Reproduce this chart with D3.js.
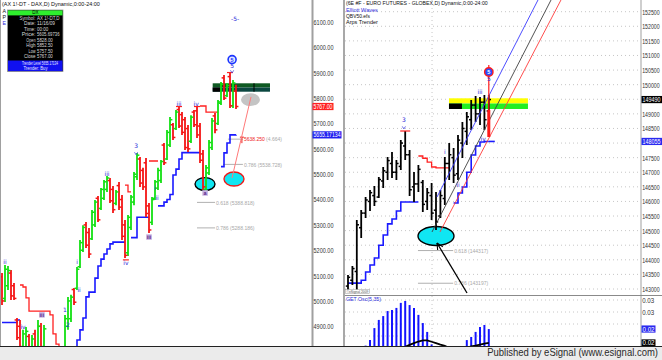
<!DOCTYPE html>
<html><head><meta charset="utf-8">
<script src="https://cdn.jsdelivr.net/npm/d3@7/dist/d3.min.js"></script>
<style>
html,body{margin:0;padding:0;background:#fff;overflow:hidden}
svg{display:block}
</style></head><body>
<svg id="chart" width="662" height="360" font-family="Liberation Sans, Arial, sans-serif"></svg>
<script>
// ================= DATA =================
// Left panel: DAX daily OHLC (79 bars)
const daxOpen = [5095,5010,5060,5110,5060,4925,4900,4800,4815,4860, 4800,4870,4815,4900,4820,4790,4760,4710,4750,4650,
 4700,4790,4900,4930,5045,5050,5135,5200,5300,5270, 5245,5300,5405,5365,5405,5440,5475,5440,5385,5455,
 5400,5300,5190,5290,5390,5490,5560,5515,5545,5375, 5310,5405,5445,5475,5615,5560,5615,5695,5680,5755,
 5735,5715,5680,5630,5745,5750,5690,5580,5440,5505, 5605,5730,5700,5780,5880,5810,5885,5770,5828];
const daxHigh = [5110,5142,5138,5122,5071,4933,4925,4886,4897,4870, 4866,4886,4925,4913,4905,4807,4787,4780,4760,4740,
 4800,4945,5016,5024,5051,5134,5240,5299,5311,5288, 5359,5398,5414,5446,5477,5493,5485,5453,5438,5469,
 5418,5319,5339,5418,5509,5584,5568,5525,5564,5386, 5410,5477,5525,5556,5623,5674,5726,5702,5753,5765,
 5745,5726,5694,5733,5753,5765,5702,5595,5536,5635, 5722,5741,5793,5864,5891,5860,5899,5872,5852.5];
const daxLow = [4984,4996,5043,5004,5004,4846,4807,4787,4787,4799, 4783,4799,4807,4799,4807,4728,4688,4700,4650,4640,
 4690,4780,4886,4917,4984,5043,5130,5193,5209,5169, 5240,5292,5311,5359,5398,5430,5386,5347,5378,5359,
 5240,5169,5177,5280,5378,5477,5450,5438,5331,5268, 5300,5398,5438,5465,5536,5556,5607,5635,5674,5682,
 5655,5595,5588,5623,5686,5643,5544,5438,5430,5497, 5595,5662,5694,5773,5793,5805,5761,5761,5757.5];
const daxClose = [5000,5125,5120,5020,5010,4855,4820,4870,4880,4810, 4850,4810,4900,4810,4890,4740,4700,4765,4660,4730,
 4790,4930,5000,5015,4995,5125,5230,5290,5220,5185, 5350,5390,5320,5440,5470,5485,5395,5360,5430,5370,
 5255,5180,5330,5410,5500,5575,5465,5450,5345,5280, 5400,5470,5515,5550,5545,5665,5715,5645,5745,5690,
 5665,5605,5600,5725,5695,5655,5555,5450,5525,5625, 5710,5675,5785,5855,5800,5850,5770,5860,5767];
const daxTrenderBuy = [4915,4915,4915,4915,4915,4925,4925,
 null,null,null,null,null,null,null,null,null,null,null,null,null,null,
 4700,4720,4760,4800,
 4846,4886,4933,5016,5035,5035,5090,5138,5165,5185,5205,5225,5232,5232,5232,5232,5232,
 null,
 5250,5250,5330,5330,5330,5330,5330,
 null,null,
 5375,5375,5390,5400,5420,5497,5520,5560,5585,5585,5585,5585,5585,5585,5585,
 null,null,null,null,null,null,
 5530,5584,5623,5655,5655,5655.17134];
const daxTrenderSell = [null,null,null,null,null,null,
 5063,5055,5012,4960,4960,4960,4960,4960,4960,4960,4945,4870,4830,4800,4800,4800,
 null,null,null,null,null,null,null,null,null,null,null,null,null,null,null,null,null,null,null,
 5457,5430,5430,
 null,null,null,null,null,
 5552,5552,5552,5552,
 null,null,null,null,null,null,null,null,null,null,null,null,null,
 5769,5769,5745,5745,5745,5745,5745,
 null,null,null,null,null,null];
const daxTicks = d3.range(4900, 6101, 100);
const daxWaveLabels = [
 {i:1,v:5154,t:"ii"},{i:7,v:4897,t:"iv"},{i:21,v:4964,t:"1"},{i:22,v:4905,t:"2"},
 {i:25,v:5154,t:"i"},{i:25.7,v:5043,t:"ii"},{i:35,v:5500,t:"iii"},{i:41.3,v:5150,t:"iv"},
 {i:44.7,v:5610,t:"3"},{i:51,v:5445,t:"i"},{i:51.7,v:5406,t:"ii"},
 {i:59,v:5777,t:"iii"},{i:64.7,v:5777,t:"iv"},{i:76.7,v:5926,t:"5"},
 {i:77.7,v:6112,t:"-5-"}];
const daxArrowMarks = [{i:44.7,v:5582},{i:76.7,v:5905}];
const daxPurpleLabels = [{i:13.3,v:4945,t:"iii"},{i:49,v:5252,t:"iii"},{i:67.7,v:5426,t:"a"}];
const daxHats = [{i:59,v:5765},{i:65,v:5765},{i:76,v:5899},{i:41.3,v:5160}];
const daxCircle = {i:76.7, v:5952, t:"5"};
const daxEllipses = [{i:67.67,v:5461,kind:"cyanBlack"},{i:77.33,v:5481,kind:"cyanRed"},{i:82.83,v:5794,kind:"gray"}];
const daxBox = {i0:70.23,i1:89.33,top:5858.6,mid:5842,bot:5825.4,blackTo:72.67,divider:84};
const daxFib = [
 {v:5638.25,from:75.3,to:80.3,label:"5638.250",extra:" (4.664)"},
 {v:5538.728,from:73.7,to:80.3,label:"0.786 (5538.728)"},
 {v:5388.818,from:65,to:71,label:"0.618 (5388.818)"},
 {v:5288.186,from:65,to:71,label:"0.786 (5288.186)"}];
const daxTargetLine = [[76.67,5485],[83,5805]];
const daxInfoLabels = ["Symbol:","Date:","Time:","Price:","Open","High","Low","Close"];
const daxInfoText = ["AX 1!-DT,D","11/16/09","00:00","5605.69736"];

// Right panel: Euro futures daily OHLC (33 bars)
const eurOpen = [143100,143300,143600,145100,145600,146000,146200,146150,146700,147000,147300,147000,147200,147900,147600,146500,
 146600,146650,146000,146200,145700,145500,146100,147300,147500,146950,148000,148400,148800,149300,149000,149400,149100];
const eurHigh = [143480,143788,145364,145707,146152,146392,146529,146837,147180,147522,147694,147420,148105,148413,147762,147009,
 147248,146734,146460,146631,146323,146392,147522,148002,147831,148276,148721,149064,149475,149612,149578,149646,149646];
const eurLow = [142966,143137,142897,144747,145432,145672,145844,146118,146460,146734,146803,146734,147077,147420,146186,145981,
 146323,145638,145707,145364,145021,145432,145878,146734,146632,146734,147488,147933,148447,148721,148619,148447,148790];
const eurClose = [143400,143700,145200,145600,146050,146300,146000,146750,147050,147400,147000,147300,148000,147600,146400,146600,
 147100,145900,146300,145600,145300,146200,147300,147600,146900,148100,148500,148900,149300,149000,149400,148800,149490];
const eurTrenderBuy = [143200,143200,143200,143300,143580,143820,144060,144500,144850,145230,145400,145670,145980,145980,145980,145980,145980,
 null,null,null,null,null,null,null,
 145946,146289,146494,147000,147591,147900,148036,148055,148055];
const eurTrenderSell = [null,null,null,null,null,null,null,null,null,null,null,null,null,null,null,null,
 147556,147480,147350,147180,147150,147150,147150,147150,
 null,null,null,null,null,null,null,null,null];
const eurTicks = d3.range(143000, 152501, 500);
const eurWaveLabels = [{j:12.7,v:148790,t:"3"},{j:22,v:147693,t:"i"},{j:25,v:146563,t:"ii"},
 {j:30,v:149749,t:"iii"},{j:30.7,v:148139,t:"iv"},{j:32,v:150195,t:"5"}];
const eurArrowMarks = [{j:12.7,v:148530}];
const eurHats = [{j:13,v:148413}];
const eurCircle = {j:32, v:150434, t:"5"};
const eurWaveLine = {j:32, top:150674, bottom:148207, thickTop:149132};
const eurEllipse = {j:20, v:144816};
const eurBox = {j0:22.95,j1:40.9,top:149533,mid:149355,bot:149167,blackTo:25.9};
const eurChannels = [
 {color:"#3a3aff", pts:[[20.23,146152],[43.18,152901]]},
 {color:"#404040", pts:[[19.09,144953],[46.14,152901]]},
 {color:"#ff3a3a", pts:[[20.9,144953],[48.4,152901]]}];
const eurArrow = [[20.23,144576],[27.05,142863]];
const eurFib = [{v:144317,from:15.9,to:23.9,label:"0.618 (144317)"},{v:143197,from:15.9,to:23.9,label:"0.786 (143197)"}];
const eurGridBars = [19.1];
// GET oscillator
const oscHist = [0.012,0.013,0.014,0.015,0.016,
 0.0183,0.0233,0.0267,0.0283,0.0304,0.0308,0.0317,0.0338,0.0346,0.0329,0.0317,0.0288,0.0254,0.0217,
 0.0165,0.0150,0.0120,0.0110,0.0120,0.0135,0.0145,0.0155,
 0.0183,0.0196,0.0217,0.0238,0.0246,0.0229];
const oscSignal = [0.0100,0.0103,0.0104,0.0109,0.0111,0.0117,0.0119,0.0125,0.0127,0.0133,0.0134,0.0138,
 0.0140,0.0155,0.0163,0.0170,0.0177,0.0182,0.0182,0.0176,0.0170,0.0164,0.0159,0.0150,0.0142,0.0136,0.0141,
 0.0150,0.0157,0.0160,0.0164,0.0168,0.0171];
const oscTicks = [0.035, 0.03];
const oscGrid = [0.035,0.03,0.025,0.02];

// ================= DRAW =================
const svg = d3.select("#chart");
const defs = svg.append("defs");
function clip(id,x,y,w,h){defs.append("clipPath").attr("id",id).append("rect").attr("x",x).attr("y",y).attr("width",w).attr("height",h);}
clip("cL",1,0,310,346); clip("cR",345,0,296,295); clip("cO",345,296,296,50);

// squeeze a text horizontally to a given width (scale about its anchor x)
function fit(sel,w){
 sel.each(function(){
  const n=this.getComputedTextLength(); if(!n) return;
  const s=Math.min(1.6,w/n); const x=+this.getAttribute("x")||0;
  this.setAttribute("transform",`translate(${x*(1-s)},0) scale(${s},1)`);
 });
 return sel;
}

const xL = d3.scaleLinear().domain([0,78]).range([2,236]);
const yL = d3.scaleLinear().domain([4900,6100]).range([326.3,22.1]);
const xR = d3.scaleLinear().domain([0,32]).range([348,488.8]);
const yR = d3.scaleLinear().domain([143000,152500]).range([289,11.7]);
const yO = d3.scaleLinear().domain([0,0.035]).range([384,300]);

svg.append("rect").attr("width",662).attr("height",360).attr("fill","#fff");

const gL = svg.append("g").attr("clip-path","url(#cL)");
const gR = svg.append("g").attr("clip-path","url(#cR)");
const gO = svg.append("g").attr("clip-path","url(#cO)");

// --- right grid
gR.selectAll("line.gh").data(eurTicks).join("line").attr("class","gh")
 .attr("x1",345).attr("x2",641).attr("y1",d=>yR(d)).attr("y2",d=>yR(d))
 .attr("stroke","#b8b8b8").attr("stroke-width",0.8).attr("stroke-dasharray","1,3");
gR.selectAll("line.gv").data(eurGridBars).join("line").attr("class","gv")
 .attr("x1",d=>xR(d)).attr("x2",d=>xR(d)).attr("y1",0).attr("y2",295)
 .attr("stroke","#b8b8b8").attr("stroke-width",0.8).attr("stroke-dasharray","1,3");
gO.selectAll("line.gh").data(oscGrid).join("line").attr("class","gh")
 .attr("x1",345).attr("x2",641).attr("y1",d=>yO(d)).attr("y2",d=>yO(d))
 .attr("stroke","#b8b8b8").attr("stroke-width",0.8).attr("stroke-dasharray","1,3");
gO.selectAll("line.gv").data(eurGridBars).join("line").attr("class","gv")
 .attr("x1",d=>xR(d)).attr("x2",d=>xR(d)).attr("y1",296).attr("y2",346)
 .attr("stroke","#b8b8b8").attr("stroke-width",0.8).attr("stroke-dasharray","1,3");

// --- boxes
{
 const b=daxBox;
 gL.append("rect").attr("x",xL(b.i0)).attr("y",yL(b.top)).attr("width",xL(b.i1)-xL(b.i0)).attr("height",yL(b.mid)-yL(b.top)).attr("fill","#0f5a22");
 gL.append("rect").attr("x",xL(b.i0)).attr("y",yL(b.mid)).attr("width",xL(b.i1)-xL(b.i0)).attr("height",yL(b.bot)-yL(b.mid)).attr("fill","#0b4740");
 gL.append("rect").attr("x",xL(b.i0)).attr("y",yL(b.mid)).attr("width",xL(b.blackTo)-xL(b.i0)).attr("height",yL(b.bot)-yL(b.mid)).attr("fill","#000");
 gL.append("line").attr("x1",xL(b.divider)).attr("x2",xL(b.divider)).attr("y1",yL(b.top)).attr("y2",yL(b.bot)).attr("stroke","#000").attr("stroke-width",1);
 const e=eurBox;
 gR.append("rect").attr("x",xR(e.j0)).attr("y",yR(e.top)).attr("width",xR(e.j1)-xR(e.j0)).attr("height",yR(e.mid)-yR(e.top)).attr("fill","#ffff00");
 gR.append("rect").attr("x",xR(e.j0)).attr("y",yR(e.mid)).attr("width",xR(e.j1)-xR(e.j0)).attr("height",yR(e.bot)-yR(e.mid)).attr("fill","#22ee22");
 gR.append("rect").attr("x",xR(e.j0)).attr("y",yR(e.mid)).attr("width",xR(e.blackTo)-xR(e.j0)).attr("height",yR(e.bot)-yR(e.mid)).attr("fill","#000");
}

// --- fib levels
function fibs(g,x,y,list,labelLens){
 list.forEach((f,k)=>{
  g.append("line").attr("x1",x(f.from)).attr("x2",x(f.to)).attr("y1",y(f.v)).attr("y2",y(f.v)).attr("stroke","#b0b0b0").attr("stroke-width",1);
  const red = f.extra!==undefined;
  const tx=g.append("text").attr("x",x(f.to)+1).attr("y",y(f.v)+2.2).attr("font-size",6.2)
   .attr("fill",red?"#ee2020":"#a8a8a8").text(f.label);
  if(red){
   tx.append("tspan").attr("fill","#a8a8a8").text(f.extra);
   g.append("line").attr("x1",x(f.to)-1).attr("x2",x(f.to)-1).attr("y1",y(f.v)-2).attr("y2",y(f.v)+4).attr("stroke","#ee2020").attr("stroke-width",1);
   g.append("line").attr("x1",x(f.to)-3).attr("x2",x(f.to)+1).attr("y1",y(f.v)-2).attr("y2",y(f.v)-2).attr("stroke","#ee2020").attr("stroke-width",1);
  }
  fit(tx,labelLens[k]);
 });
}
fibs(gL,xL,yL,daxFib,[38,38,38.5,38.5]);
fibs(gR,xR,yR,eurFib,[34,34]);

// --- ellipses
const ellStyle = {cyanBlack:{rx:10,ry:6.5,fill:"#10e6f2",stroke:"#000"},cyanRed:{rx:10,ry:7,fill:"#10e6f2",stroke:"#ee1a1a"},gray:{rx:9.5,ry:6.3,fill:"#c4c4c4",stroke:"none"}};
daxEllipses.forEach(e=>{const s=ellStyle[e.kind];
 gL.append("ellipse").attr("cx",xL(e.i)).attr("cy",yL(e.v)).attr("rx",s.rx).attr("ry",s.ry).attr("fill",s.fill).attr("stroke",s.stroke).attr("stroke-width",1.4);});
gR.append("ellipse").attr("cx",xR(eurEllipse.j)).attr("cy",yR(eurEllipse.v)).attr("rx",18).attr("ry",9.5).attr("fill","#10e6f2").attr("stroke","#000").attr("stroke-width",1.4);

// --- trender step lines
function trender(g,x,y,vals,color,w){
 const line=d3.line().defined(d=>d!=null).x((d,i)=>x(i)).y(d=>y(d)).curve(d3.curveStepAfter);
 g.append("path").attr("d",line(vals)).attr("fill","none").attr("stroke",color).attr("stroke-width",w);
}
trender(gL,xL,yL,daxTrenderSell,"#ff2020",1.3);
trender(gL,xL,yL,daxTrenderBuy,"#1a1aff",1.6);
trender(gR,xR,yR,eurTrenderSell,"#ff2020",1.3);
trender(gR,xR,yR,eurTrenderBuy,"#1a1aff",1.6);
{ const n=eurTrenderBuy.length-1;
  gR.append("line").attr("x1",xR(n)).attr("x2",xR(n)+6).attr("y1",yR(eurTrenderBuy[n])).attr("y2",yR(eurTrenderBuy[n])).attr("stroke","#1a1aff").attr("stroke-width",1.6); }

// --- OHLC bars
function bars(g,x,y,O,Hh,L,C,colorFn,sw,tk){
 const idx=d3.range(O.length);
 g.selectAll(null).data(idx).join("line").attr("x1",i=>x(i)).attr("x2",i=>x(i)).attr("y1",i=>y(Hh[i])).attr("y2",i=>y(L[i])).attr("stroke",colorFn).attr("stroke-width",sw);
 g.selectAll(null).data(idx).join("line").attr("x1",i=>x(i)-tk).attr("x2",i=>x(i)).attr("y1",i=>y(O[i])).attr("y2",i=>y(O[i])).attr("stroke",colorFn).attr("stroke-width",1.5);
 g.selectAll(null).data(idx).join("line").attr("x1",i=>x(i)).attr("x2",i=>x(i)+tk).attr("y1",i=>y(C[i])).attr("y2",i=>y(C[i])).attr("stroke",colorFn).attr("stroke-width",1.5);
}
bars(gL,xL,yL,daxOpen,daxHigh,daxLow,daxClose,i=>daxClose[i]>=daxOpen[i]?"#12e012":"#f41414",1.8,2.4);
bars(gR,xR,yR,eurOpen,eurHigh,eurLow,eurClose,()=>"#000",1.8,2.2);

// --- right channel lines & arrow
eurChannels.forEach(c=>{
 gR.append("line").attr("x1",xR(c.pts[0][0])).attr("y1",yR(c.pts[0][1])).attr("x2",xR(c.pts[1][0])).attr("y2",yR(c.pts[1][1])).attr("stroke",c.color).attr("stroke-width",0.9);
});
{
 const p0=[xR(eurArrow[0][0]),yR(eurArrow[0][1])], p1=[xR(eurArrow[1][0]),yR(eurArrow[1][1])];
 gR.append("line").attr("x1",p0[0]).attr("y1",p0[1]).attr("x2",p1[0]).attr("y2",p1[1]).attr("stroke","#000").attr("stroke-width",1.3);
 const a=Math.atan2(p1[1]-p0[1],p1[0]-p0[0]);
 [0.45,-0.45].forEach(d=>{gR.append("line").attr("x1",p0[0]).attr("y1",p0[1]).attr("x2",p0[0]+7*Math.cos(a+d)).attr("y2",p0[1]+7*Math.sin(a+d)).attr("stroke","#000").attr("stroke-width",1.1);});
}
// left target line
gL.append("line").attr("x1",xL(daxTargetLine[0][0])).attr("y1",yL(daxTargetLine[0][1])).attr("x2",xL(daxTargetLine[1][0])).attr("y2",yL(daxTargetLine[1][1])).attr("stroke","#ff7a7a").attr("stroke-width",1);

// right wave-5 line
{
 const w=eurWaveLine;
 gR.append("line").attr("x1",xR(w.j)).attr("x2",xR(w.j)).attr("y1",yR(w.top)).attr("y2",yR(w.bottom)).attr("stroke","#ff1a1a").attr("stroke-width",1.2);
 gR.append("line").attr("x1",xR(w.j)).attr("x2",xR(w.j)).attr("y1",yR(w.thickTop)).attr("y2",yR(w.bottom)).attr("stroke","#ff1a1a").attr("stroke-width",3);
}

// --- hats
daxHats.forEach(h=>gL.append("line").attr("x1",xL(h.i)-3).attr("x2",xL(h.i)+3).attr("y1",yL(h.v)-0.5).attr("y2",yL(h.v)-0.5).attr("stroke","#ff2020").attr("stroke-width",1.2));
eurHats.forEach(h=>gR.append("line").attr("x1",xR(h.j)-5).attr("x2",xR(h.j)+5).attr("y1",yR(h.v)).attr("y2",yR(h.v)).attr("stroke","#ff2020").attr("stroke-width",1.2));

// --- wave labels
function waveLabels(g,x,y,list,key){
 g.selectAll(null).data(list).join("text").attr("x",d=>x(d[key])).attr("y",d=>y(d.v)).attr("dy","0.35em")
  .attr("text-anchor","middle").attr("font-size",6).attr("font-family","DejaVu Sans, sans-serif").attr("fill","#2a2ad8").text(d=>d.t);
}
waveLabels(gL,xL,yL,daxWaveLabels,"i");
waveLabels(gR,xR,yR,eurWaveLabels,"j");
function arrowMarks(g,x,y,list,key){
 list.forEach(d=>{const cx=x(d[key]), cy=y(d.v);
  g.append("path").attr("d",`M${cx-1.6},${cy-1.2}L${cx},${cy+1.4}L${cx+1.6},${cy-1.2}`).attr("fill","none").attr("stroke","#4a4ae0").attr("stroke-width",0.8);});
}
arrowMarks(gL,xL,yL,daxArrowMarks,"i");
arrowMarks(gR,xR,yR,eurArrowMarks,"j");
daxPurpleLabels.forEach(d=>{
 gL.append("rect").attr("x",xL(d.i)-2.8).attr("y",yL(d.v)-2.8).attr("width",5.6).attr("height",5.6).attr("fill","#c8b4e4");
 gL.append("text").attr("x",xL(d.i)).attr("y",yL(d.v)).attr("dy","0.35em").attr("text-anchor","middle").attr("font-size",5.5)
  .attr("font-weight","bold").attr("fill","#5a2a8a").text(d.t);
});
// circled 5s
gL.append("circle").attr("cx",xL(daxCircle.i)).attr("cy",yL(daxCircle.v)).attr("r",4).attr("fill","#dfe6ff").attr("stroke","#1a34ff").attr("stroke-width",1.6);
gL.append("text").attr("x",xL(daxCircle.i)).attr("y",yL(daxCircle.v)).attr("dy","0.35em").attr("text-anchor","middle").attr("font-size",5.5).attr("font-weight","bold").attr("fill","#1a34ff").text(daxCircle.t);
gR.append("circle").attr("cx",xR(eurCircle.j)).attr("cy",yR(eurCircle.v)).attr("r",4.2).attr("fill","#2a4cff").attr("stroke","#ff1a1a").attr("stroke-width",1.4);
gR.append("text").attr("x",xR(eurCircle.j)).attr("y",yR(eurCircle.v)).attr("dy","0.35em").attr("text-anchor","middle").attr("font-size",5.5).attr("font-weight","bold").attr("fill","#fff").text(eurCircle.t);

// --- oscillator
gO.selectAll(null).data(oscHist).join("line").attr("x1",(d,i)=>xR(i)).attr("x2",(d,i)=>xR(i)).attr("y1",d=>yO(d)).attr("y2",yO(0))
 .attr("stroke","#1414ff").attr("stroke-width",2);
gO.append("path").attr("d",d3.line().x((d,i)=>xR(i)).y(d=>yO(d))(oscSignal)).attr("fill","none").attr("stroke","#000").attr("stroke-width",1.8);

// --- frames / separators
svg.append("rect").attr("x",0).attr("y",0).attr("width",1).attr("height",346).attr("fill","#a0a0a0");
svg.append("rect").attr("x",311.5).attr("y",0).attr("width",2).attr("height",346).attr("fill","#a0a0a0");
svg.append("rect").attr("x",343).attr("y",0).attr("width",2).attr("height",346).attr("fill","#a8a8a8");
svg.append("rect").attr("x",640.5).attr("y",0).attr("width",1).attr("height",346).attr("fill","#a0a0a0");
svg.append("line").attr("x1",345).attr("x2",662).attr("y1",295.5).attr("y2",295.5).attr("stroke","#8a8a8a").attr("stroke-width",1);

// --- axes (labels hidden under the value markers are left out, as on the reference)
const markerVals = [eurClose[32], eurTrenderBuy[32]];
const eurAxisTicks = eurTicks.filter(t=>markerVals.every(m=>Math.abs(yR(t)-yR(m))>5));
function styleAxis(g,len){
 g.select(".domain").remove();
 g.attr("font-family","Liberation Sans, Arial, sans-serif");
 fit(g.selectAll("text").attr("font-size",7.5).attr("fill","#333"),len);
}
svg.append("g").attr("transform","translate(312,0)")
 .call(d3.axisRight(yL).tickValues(daxTicks).tickSize(0).tickPadding(1.5).tickFormat(d3.format(".2f"))).call(g=>styleAxis(g,20));
svg.append("g").attr("transform","translate(641,0)")
 .call(d3.axisRight(yR).tickValues(eurAxisTicks).tickSize(0).tickPadding(1.2).tickFormat(d3.format("d"))).call(g=>styleAxis(g,17.5));
svg.append("g").attr("transform","translate(641,0)")
 .call(d3.axisRight(yO).tickValues(oscTicks).tickSize(0).tickPadding(1.2).tickFormat(d=>(Math.floor(d*100+1e-9)/100).toFixed(2))).call(g=>styleAxis(g,12));

// --- value markers on axes
function marker(x,y,w,bg,txt,len){
 svg.append("rect").attr("x",x).attr("y",y-3.6).attr("width",w).attr("height",7.2).attr("fill",bg);
 fit(svg.append("text").attr("x",x+1).attr("y",y).attr("dy","0.35em").attr("font-size",7.3).attr("fill","#fff").text(txt),len);
}
marker(312.5,yL(daxClose[78]),21,"#ff2020",d3.format(".2f")(daxClose[78]),19);
marker(312.5,yL(daxTrenderBuy[78]),29,"#2020f0",String(daxTrenderBuy[78]),27);
marker(641.5,yR(eurClose[32]),20.5,"#000",d3.format("d")(eurClose[32]),18);
marker(641.5,yR(eurTrenderBuy[32]),20.5,"#2a2af0",d3.format("d")(eurTrenderBuy[32]),18);
marker(641.5,yO(oscHist[32]),14,"#2a2af0",d3.format(".2f")(oscHist[32]),12);
marker(641.5,yO(oscSignal[32]),14,"#000",d3.format(".2f")(oscSignal[32]),12);

// --- titles
function t(x,y,s,size,fill,len,anchor){
 const e=svg.append("text").attr("x",x).attr("y",y).attr("font-size",size).attr("fill",fill).text(s);
 if(anchor) e.attr("text-anchor",anchor);
 if(len) fit(e,len);
 return e;
}
t(2,6,"(AX 1!-DT - DAX,D) Dynamic,0:00-24:00",5.3,"#111",98);
t(2.5,12.5,"A",5.3,"#111"); t(2.5,18.8,"P",5.3,"#111"); t(2.5,25,"E",5.3,"#2a2ad8");
t(346,5.5,"(6E #F - EURO FUTURES - GLOBEX,D) Dynamic,0:00-24:00",5.3,"#111",142);
t(346,11.7,"Elliott Waves",5.3,"#2a2ad8",32);
t(346,17.9,"QBV50.efs",5.3,"#111",24);
t(346,24.1,"Arps Trender",5.3,"#111",32);
t(346,301.5,"GET Osc(5,35)",6.2,"#2a2ad8",35);
svg.append("rect").attr("x",345.5).attr("y",289.5).attr("width",24).attr("height",4.2).attr("fill","#fff").attr("stroke","#999").attr("stroke-width",0.5);
t(346.5,293,"©eSignal 2009",3.4,"#555",22);

// --- info box
{
 const g=svg.append("g");
 g.append("rect").attr("x",7.5).attr("y",10).attr("width",55.5).attr("height",61.5).attr("fill","#000").attr("stroke","#9a9a9a").attr("stroke-width",0.8);
 g.append("rect").attr("x",8).attr("y",10.4).attr("width",54.5).attr("height",5).attr("fill","#2ef02e");
 g.append("text").attr("x",35.5).attr("y",14.4).attr("text-anchor","middle").attr("font-size",4.6).attr("fill","#000").text("DX");
 const vals=daxInfoText.concat([daxOpen[78],daxHigh[78],daxLow[78],daxClose[78]].map(d3.format(".2f")));
 const ys=[20,25.5,31,36.5,42,47.5,53,58.5];
 daxInfoLabels.forEach((l,k)=>{
  fit(g.append("text").attr("x",35.5).attr("y",ys[k]).attr("text-anchor","end").attr("font-size",5.2).attr("fill","#d8d8d8").text(l), l.length*2.3);
  fit(g.append("text").attr("x",37).attr("y",ys[k]).attr("font-size",5.2).attr("fill","#d8d8d8").text(vals[k]), vals[k].length*2.25);
 });
 g.append("rect").attr("x",8).attr("y",60.5).attr("width",54.5).attr("height",10.6).attr("fill","#1010f0");
 fit(g.append("text").attr("x",40).attr("y",64.8).attr("text-anchor","middle").attr("font-size",5.2).attr("fill","#e8e8ff").text("Trender Level "+daxTrenderBuy[78]),36);
 fit(g.append("text").attr("x",35.5).attr("y",70).attr("text-anchor","middle").attr("font-size",5.2).attr("fill","#e8e8ff").text("Trender: Buy"),24);
}

// --- footer
svg.append("rect").attr("x",0).attr("y",346).attr("width",662).attr("height",14).attr("fill","#ebebeb");
svg.append("line").attr("x1",0).attr("x2",662).attr("y1",346.5).attr("y2",346.5).attr("stroke","#222").attr("stroke-width",1);
t(658,356.5,"Published by eSignal (www.esignal.com)",11,"#2a2a2a",171,"end");
</script>
</body></html>
